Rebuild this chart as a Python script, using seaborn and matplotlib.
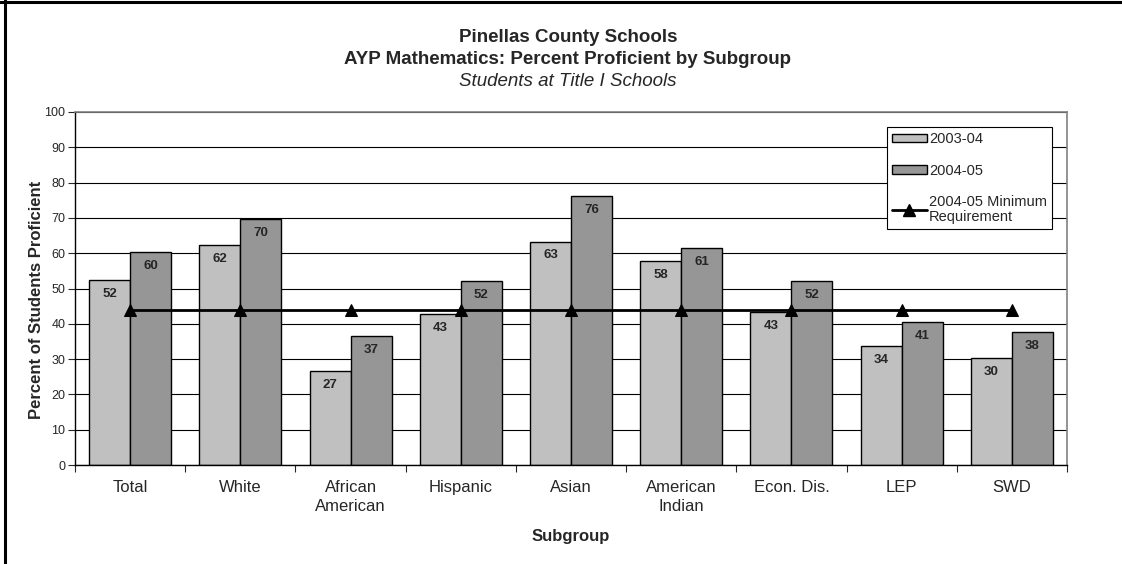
import numpy as np
import pandas as pd
import matplotlib.pyplot as plt
from matplotlib.lines import Line2D
from matplotlib.patches import Patch
import seaborn as sns

subgroups = ["Total", "White", "African\nAmerican", "Hispanic", "Asian",
             "American\nIndian", "Econ. Dis.", "LEP", "SWD"]
years = ["2003-04", "2004-05"]
pct_0304 = [52.4, 62.3, 26.7, 42.7, 63.3, 57.9, 43.4, 33.6, 30.4]
pct_0405 = [60.2, 69.6, 36.6, 52.1, 76.1, 61.4, 52.2, 40.6, 37.6]
min_req = [44] * 9
colors = ["#C0C0C0", "#969696"]

df = pd.DataFrame({
    "Subgroup": subgroups * 2,
    "Percent": pct_0304 + pct_0405,
    "Year": [years[0]] * len(subgroups) + [years[1]] * len(subgroups),
})

sns.set_style("ticks")
plt.rcParams["font.family"] = ["Liberation Sans", "DejaVu Sans"]

fig = plt.figure(figsize=(11.22, 5.64), dpi=100)
ax = fig.add_axes([75 / 1122, 1 - 465 / 564, 992 / 1122, 353 / 564])

sns.barplot(data=df, x="Subgroup", y="Percent", hue="Year", order=subgroups,
            palette=colors, width=0.744, edgecolor="black", linewidth=1,
            saturation=1, legend=False, ax=ax, zorder=2)

sns.lineplot(x=np.arange(len(subgroups)), y=min_req, color="black", lw=2,
             marker="^", markersize=8, markeredgecolor="black", ax=ax,
             zorder=4, legend=False)

# value labels inside top of bars
for cont, vals in zip(ax.containers, [pct_0304, pct_0405]):
    for bar, v in zip(cont, vals):
        ax.annotate(f"{v:.0f}", (bar.get_x() + bar.get_width() / 2, bar.get_height()),
                    xytext=(0, -10), textcoords="offset points",
                    ha="center", va="center", fontsize=9.5, fontweight="bold",
                    zorder=5)

ax.set_ylim(0, 100)
ax.set_xlim(-0.5, len(subgroups) - 0.5)
ax.set_yticks(range(0, 101, 10))
ax.set_axisbelow(True)
ax.grid(axis="y", color="black", lw=0.8)
ax.grid(axis="x", visible=False)

ax.tick_params(axis="y", direction="out", length=5, width=0.8, labelsize=9, pad=2)
ax.set_xticks(range(len(subgroups)))
ax.set_xticklabels(subgroups)
ax.tick_params(axis="x", which="major", length=0, labelsize=12, pad=11)
ax.set_xticks(np.arange(-0.5, len(subgroups), 1), minor=True)
ax.tick_params(axis="x", which="minor", length=5, width=0.8, direction="out")
for t in ax.get_xticklabels():
    t.set_linespacing(1.3)

for s in ["left", "bottom"]:
    ax.spines[s].set_color("black")
    ax.spines[s].set_linewidth(1)
for s in ["top", "right"]:
    ax.spines[s].set_visible(True)
    ax.spines[s].set_color("#808080")
    ax.spines[s].set_linewidth(1.2)

ax.set_xlabel("Subgroup", fontsize=12, fontweight="bold")
ax.set_ylabel("Percent of Students Proficient", fontsize=12, fontweight="bold")
ax.xaxis.set_label_coords(0.5, -0.181)
ax.yaxis.set_label_coords(-0.031, 0.467)

handles = [
    Patch(facecolor=colors[0], edgecolor="black", lw=1),
    Patch(facecolor=colors[1], edgecolor="black", lw=1),
    Line2D([], [], color="black", lw=2, marker="^", markersize=8),
]
labels = ["2003-04", "2004-05", "2004-05 Minimum\nRequirement"]
leg = ax.legend(handles, labels, loc="upper right", bbox_to_anchor=(0.985, 0.9575),
                borderaxespad=0, frameon=True, fancybox=False, framealpha=1,
                edgecolor="black", fontsize=10.5, handlelength=2.4,
                handleheight=0.55, handletextpad=0.15, labelspacing=1.2,
                borderpad=0.35)
leg.get_frame().set_linewidth(0.8)
leg.get_texts()[2].set_linespacing(1.05)

fig.text(568 / 1122, 1 - 38 / 564, "Pinellas County Schools",
         ha="center", va="center", fontsize=13.5, fontweight="bold")
fig.text(568 / 1122, 1 - 59 / 564, "AYP Mathematics: Percent Proficient by Subgroup",
         ha="center", va="center", fontsize=13.5, fontweight="bold")
fig.text(568 / 1122, 1 - 82 / 564, "Students at Title I Schools",
         ha="center", va="center", fontsize=13.5, style="italic")

# chart border (left and top edges visible in the original crop)
fig.add_artist(Line2D([5 / 1122, 5 / 1122], [0, 1], color="black", lw=2.2))
fig.add_artist(Line2D([0, 1], [1 - 2 / 564, 1 - 2 / 564], color="black", lw=2.2))

fig.savefig("out.png", dpi=100)
